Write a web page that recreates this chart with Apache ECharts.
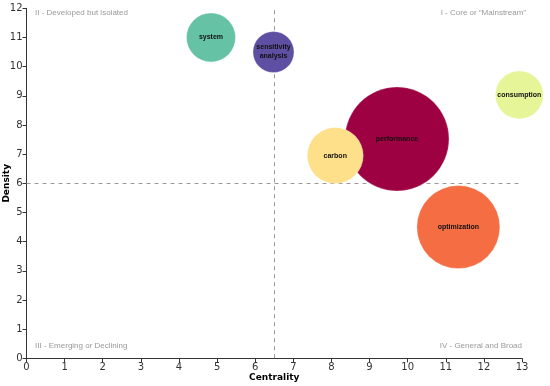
<!DOCTYPE html>
<html><head><meta charset="utf-8">
<script src="https://cdn.jsdelivr.net/npm/echarts@6/dist/echarts.min.js"></script>
<style>html,body{margin:0;padding:0;background:#fff}#c{width:550px;height:386px}</style>
</head><body><div id="c"></div>
<script>
const themes = ['performance','carbon','system','sensitivity\nanalysis','consumption','optimization'];
const centrality = [9.72, 8.10, 4.84, 6.48, 12.93, 11.33];
const density = [7.52, 6.95, 11.0, 10.5, 9.03, 4.5];
const bubbleSize = [104, 56, 49, 41, 48, 83];
const colors = ['#9E0142','#FEE08B','#66C2A5','#5E4FA2','#E6F598','#F46D43'];
const xTicks = [0,1,2,3,4,5,6,7,8,9,10,11,12,13];
const yTicks = [0,1,2,3,4,5,6,7,8,9,10,11,12];
const xThreshold = 6.5, yThreshold = 6;
const quadrants = ['I - Core or \u201cMainstream\u201d','II - Developed but isolated','III - Emerging or Declining','IV - General and Broad'];

const chart = echarts.init(document.getElementById('c'), null, {renderer:'canvas'});
const data = themes.map((t,i)=>({name:t, value:[centrality[i], density[i], bubbleSize[i]], itemStyle:{color:colors[i]}}));
const axisCommon = {
  axisLine:{lineStyle:{color:'#333',width:1}},
  axisTick:{show:true,length:4,lineStyle:{color:'#333'}},
  axisLabel:{color:'#333',fontSize:10,fontFamily:'DejaVu Sans',margin:4},
  splitLine:{show:false},
  nameMoveOverlap:false,
  nameTextStyle:{color:'#000',fontWeight:'bold',fontSize:9,fontFamily:'DejaVu Sans'}
};
const qStyle = {fill:'#999',fontSize:8,fontFamily:'Liberation Sans'};
chart.setOption({
  animation:false,
  grid:{left:26.5,right:28,top:8.3,bottom:27.7,containLabel:false,outerBoundsMode:'none'},
  xAxis:Object.assign({type:'value',min:xTicks[0],max:xTicks[xTicks.length-1],interval:1,name:'Centrality',nameLocation:'middle',nameGap:15}, axisCommon),
  yAxis:Object.assign({type:'value',min:yTicks[0],max:yTicks[yTicks.length-1],interval:1,name:'Density',nameLocation:'middle',nameGap:15}, axisCommon),
  graphic:[
    {type:'text',left:35,top:9,style:Object.assign({text:quadrants[1]},qStyle)},
    {type:'text',right:24,top:9,style:Object.assign({text:quadrants[0]},qStyle)},
    {type:'text',left:35,top:342,style:Object.assign({text:quadrants[2]},qStyle)},
    {type:'text',right:28,top:342,style:Object.assign({text:quadrants[3]},qStyle)}
  ],
  series:[{
    type:'scatter',
    data:[],
    z:1,
    markLine:{silent:true,symbol:'none',label:{show:false},lineStyle:{color:'#999',type:[4,4],width:1},
      data:[{xAxis:xThreshold},{yAxis:yThreshold}]}
  },{
    type:'scatter',
    data:data,
    symbolSize:v=>v[2],
    itemStyle:{opacity:1,borderColor:'rgba(255,255,255,0.5)',borderWidth:0.5},
    label:{show:true,position:'inside',formatter:p=>p.name,color:'#111',fontWeight:'bold',fontSize:7,fontFamily:'Liberation Sans',lineHeight:9},
    z:5
  }]
});
</script></body></html>
